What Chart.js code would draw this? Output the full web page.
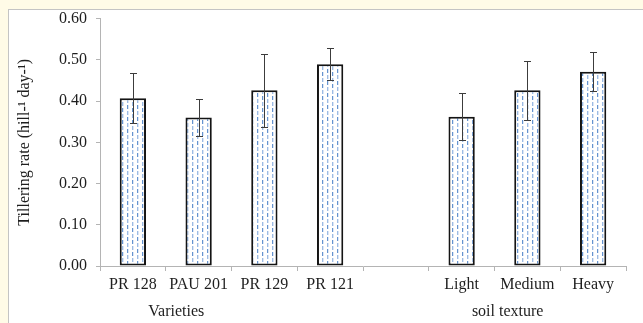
<!DOCTYPE html>
<html>
<head>
<meta charset="utf-8">
<script src="https://cdn.jsdelivr.net/npm/chart.js@4.4.0/dist/chart.umd.min.js"></script>
<style>
    html, body { margin: 0; padding: 0; }
    body { width: 643px; height: 323px; background: #fffbe7; position: relative; overflow: hidden; }
    .panel { position: absolute; left: 8px; top: 9px; right: 0; bottom: 0; background: #fff;
             border-top: 1px solid #c4c4c4; border-left: 1px solid #c4c4c4; }
    canvas { position: absolute; left: 0; top: 0; }
</style>
</head>
<body>
<div class="panel"></div>
<canvas id="tillerChart" width="643" height="323"></canvas>
<script>
// 分蘖速率数据
const categories = ['PR 128', 'PAU 201', 'PR 129', 'PR 121', '', 'Light', 'Medium', 'Heavy'];
const tilleringRate = [0.407, 0.360, 0.426, 0.489, null, 0.362, 0.426, 0.471];
const errorValues = [0.061, 0.044, 0.089, 0.039, null, 0.057, 0.071, 0.047];
const groupNames = ['Varieties', 'soil texture'];
const yTicks = [0, 0.1, 0.2, 0.3, 0.4, 0.5, 0.6];

const serif = 'Liberation Serif';

// 虚线填充图案
function makePattern() {
    const c = document.createElement('canvas');
    c.width = 10;
    c.height = 12;
    const g = c.getContext('2d');
    g.fillStyle = '#ffffff';
    g.fillRect(0, 0, 10, 12);
    const dark = '#6593cf';
    const light = '#9dbbe4';
    const halo = '#dbe6f5';
    function dash(x, y, col) {
        g.fillStyle = halo;
        g.fillRect(x + 1, y, 1, 4);
        g.fillStyle = col;
        g.fillRect(x, y, 1, 4);
    }
    dash(2, 0, dark);
    dash(2, 6, light);
    dash(7, 3, light);
    dash(7, 9, dark);
    g.fillStyle = halo;
    g.fillRect(8, 0, 1, 1);
    g.fillStyle = dark;
    g.fillRect(7, 0, 1, 1);
    return g.createPattern(c, 'repeat');
}

// 误差线
const errorBarPlugin = {
    id: 'errorBars',
    afterDatasetsDraw(chart) {
        const ctx = chart.ctx;
        const y = chart.scales.y;
        const meta = chart.getDatasetMeta(0);
        ctx.save();
        ctx.strokeStyle = '#3c3c3c';
        ctx.lineWidth = 1;
        meta.data.forEach((bar, i) => {
            const v = tilleringRate[i];
            const e = errorValues[i];
            if (v == null || e == null) return;
            const x = Math.round(bar.x) + 0.5;
            const top = Math.round(y.getPixelForValue(v + e)) + 0.5;
            const bot = Math.round(y.getPixelForValue(v - e)) + 0.5;
            ctx.beginPath();
            ctx.moveTo(x, top);
            ctx.lineTo(x, bot);
            ctx.moveTo(x - 3.5, top);
            ctx.lineTo(x + 3.5, top);
            ctx.moveTo(x - 3.5, bot);
            ctx.lineTo(x + 3.5, bot);
            ctx.stroke();
        });
        ctx.restore();
    }
};

// 分组标签
const groupLabelPlugin = {
    id: 'groupLabels',
    afterDraw(chart) {
        const ctx = chart.ctx;
        const x = chart.scales.x;
        const step = x.getPixelForValue(1) - x.getPixelForValue(0);
        const spots = [0.66, 5.7];
        ctx.save();
        ctx.font = '16px "' + serif + '"';
        ctx.fillStyle = '#1e1e1e';
        ctx.textAlign = 'center';
        ctx.textBaseline = 'middle';
        groupNames.forEach((name, i) => {
            ctx.fillText(name, x.getPixelForValue(0) + spots[i] * step, 312);
        });
        ctx.restore();
    }
};

document.addEventListener('DOMContentLoaded', function() {
    const ctx = document.getElementById('tillerChart');
    new Chart(ctx, {
        type: 'bar',
        data: {
            labels: categories,
            datasets: [{
                data: tilleringRate,
                backgroundColor: makePattern(),
                borderColor: '#141414',
                borderWidth: 2,
                borderSkipped: false,
                barPercentage: 0.4,
                categoryPercentage: 1.0
            }]
        },
        options: {
            responsive: false,
            animation: false,
            devicePixelRatio: 1,
            layout: {
                padding: { left: 0, right: 17, top: 18, bottom: 0 }
            },
            plugins: {
                legend: { display: false },
                tooltip: { enabled: false }
            },
            scales: {
                x: {
                    afterFit: function(scale) { scale.height = 57; },
                    grid: {
                        offset: true,
                        drawOnChartArea: false,
                        drawTicks: true,
                        tickLength: 5,
                        color: '#b4b4b4'
                    },
                    border: { color: '#b4b4b4' },
                    ticks: {
                        color: '#1e1e1e',
                        padding: 4,
                        font: { family: serif, size: 16 }
                    }
                },
                y: {
                    min: 0,
                    max: 0.6,
                    afterFit: function(scale) { scale.width = 100; },
                    afterBuildTicks: function(scale) {
                        scale.ticks = yTicks.map(v => ({ value: v }));
                    },
                    grid: {
                        drawOnChartArea: false,
                        drawTicks: true,
                        tickLength: 4,
                        color: '#b4b4b4'
                    },
                    border: { color: '#b4b4b4' },
                    ticks: {
                        color: '#1e1e1e',
                        padding: 9,
                        font: { family: serif, size: 16 },
                        callback: function(v) { return Number(v).toFixed(2); }
                    },
                    title: {
                        display: true,
                        text: 'Tillering rate (hill-¹ day-¹)',
                        color: '#1e1e1e',
                        padding: { top: 15, bottom: 0 },
                        font: { family: serif, size: 16 }
                    }
                }
            }
        },
        plugins: [errorBarPlugin, groupLabelPlugin]
    });
});
</script>
</body>
</html>
